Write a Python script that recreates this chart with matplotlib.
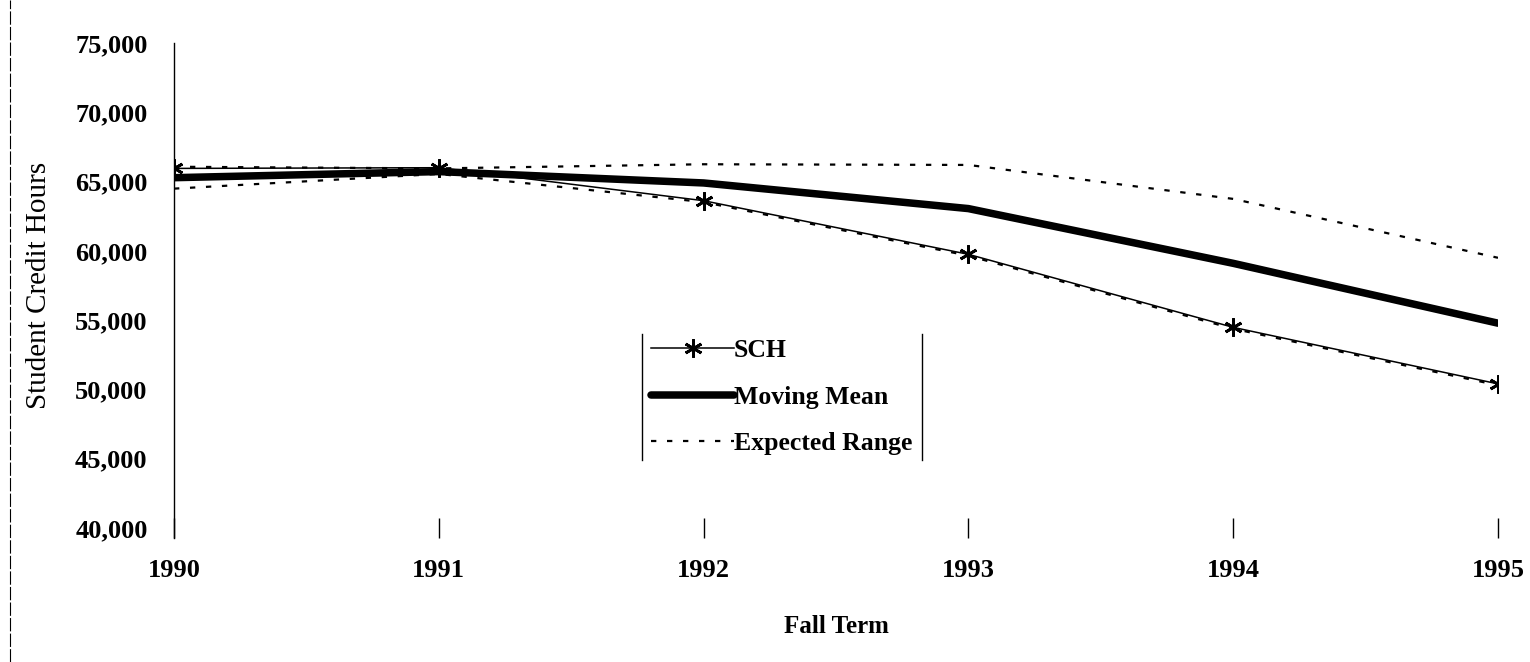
import matplotlib
matplotlib.use("Agg")
import matplotlib.pyplot as plt
from matplotlib.lines import Line2D
from matplotlib.ticker import FuncFormatter

# ---- data ----
years = [1990, 1991, 1992, 1993, 1994, 1995]
sch = [65950, 66000, 63620, 59750, 54480, 50400]
moving_mean = [65280, 65720, 64900, 63050, 59100, 54780]
range_upper = [66070, 65950, 66250, 66200, 63750, 59500]
range_lower = [64490, 65550, 63520, 59650, 54380, 50300]
y_ticks = [40000, 45000, 50000, 55000, 60000, 65000, 70000, 75000]
x_label = "Fall Term"
y_label = "Student Credit Hours"
legend_labels = ["SCH", "Moving Mean", "Expected Range"]

SERIF = ["Liberation Serif", "DejaVu Serif"]
plt.rcParams["font.family"] = SERIF

W, H = 1530, 662
fig = plt.figure(figsize=(W / 100, H / 100), dpi=100)
fig.patch.set_facecolor("white")
ax = fig.add_axes([174 / W, 1 - 528 / H, (1498 - 174) / W, (528 - 43) / H])

dash = (0, (2.4, 4.8))
ax.plot(years, moving_mean, color="black", lw=5.4, solid_capstyle="round",
        label=legend_labels[1], zorder=3)
ax.plot(years, range_upper, color="black", lw=1.6, linestyle=dash, zorder=2)
ax.plot(years, range_lower, color="black", lw=1.6, linestyle=dash,
        label=legend_labels[2], zorder=4)
ax.plot(years, sch, color="black", lw=1.1, marker=(6, 2, 0), ms=13, mew=2.0,
        label=legend_labels[0], zorder=5)

ax.set_xlim(years[0], years[-1])
ax.set_ylim(y_ticks[0], y_ticks[-1])
ax.set_xticks(years)
ax.set_yticks(y_ticks)
ax.yaxis.set_major_formatter(FuncFormatter(lambda v, p: f"{int(v):,}"))

for s in ["top", "right", "bottom"]:
    ax.spines[s].set_visible(False)
ax.spines["left"].set_linewidth(1.0)
ax.spines["left"].set_bounds(y_ticks[0] - 700, y_ticks[-1])

ax.tick_params(axis="x", direction="inout", length=14, width=1.0, pad=15,
               labelsize=19)
ax.tick_params(axis="y", length=0, pad=19, labelsize=19)
for lab in ax.get_xticklabels() + ax.get_yticklabels():
    lab.set_fontweight("bold")

ax.set_xlabel(x_label, fontsize=18, fontweight="bold", labelpad=24)
ax.set_ylabel(y_label, fontsize=21)
ax.yaxis.set_label_coords(-0.092, 0.5)

handles, labels = ax.get_legend_handles_labels()
order = [labels.index(l) for l in legend_labels]
leg = ax.legend([handles[i] for i in order], [labels[i] for i in order],
                loc="lower left", bbox_to_anchor=(0.347, 0.113),
                frameon=False, handlelength=3.2, handletextpad=0.0,
                labelspacing=0.92, borderpad=0.2,
                prop={"family": SERIF, "weight": "bold", "size": 18.5})

fig.canvas.draw()
bb = leg.get_window_extent().transformed(fig.transFigure.inverted())
for xx in (bb.x0 - 0.003, bb.x1 + 0.003):
    fig.add_artist(Line2D([xx, xx], [bb.y0, bb.y1], color="black", lw=1.0,
                          transform=fig.transFigure))

# scanned page border at far left
fig.add_artist(Line2D([10 / W, 10 / W], [0, 1], color="black", lw=0.8,
                      linestyle=(0, (12, 2)), transform=fig.transFigure))

fig.savefig("out.png", dpi=100, facecolor="white")
